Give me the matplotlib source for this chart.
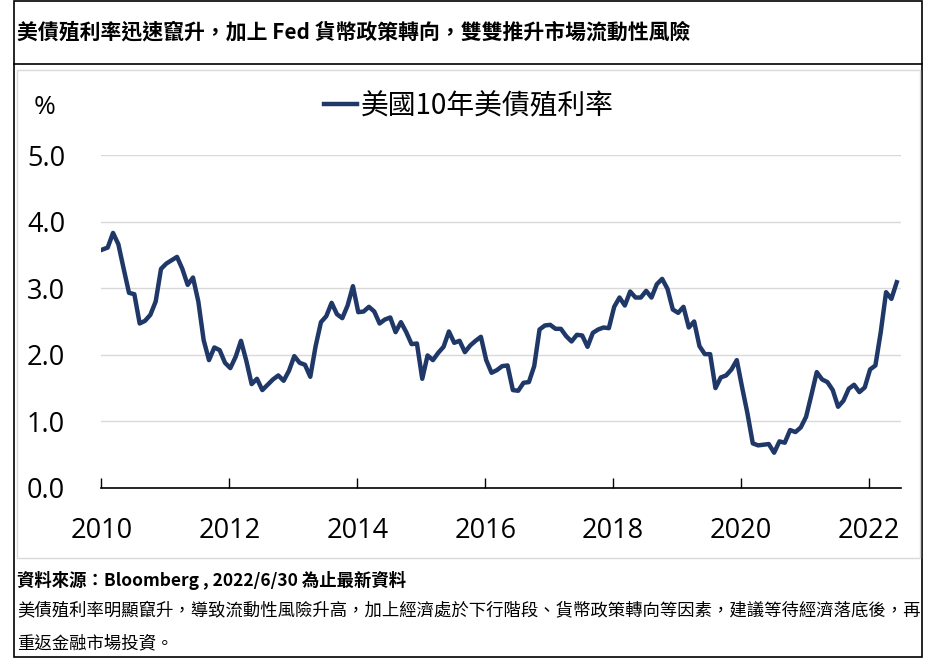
import numpy as np
import matplotlib
matplotlib.use("Agg")
import matplotlib.pyplot as plt
from matplotlib.patches import Rectangle
from matplotlib.lines import Line2D

plt.rcParams['font.family'] = ['Noto Sans CJK TC', 'DejaVu Sans']

# Monthly US 10Y treasury yield (%), Jan 2010 - Jun 2022
y2010 = [3.58, 3.61, 3.83, 3.66, 3.29, 2.93, 2.91, 2.47, 2.51, 2.60, 2.80, 3.29]
y2011 = [3.37, 3.42, 3.47, 3.29, 3.05, 3.16, 2.80, 2.22, 1.92, 2.11, 2.07, 1.88]
y2012 = [1.80, 1.97, 2.21, 1.91, 1.56, 1.64, 1.47, 1.55, 1.63, 1.69, 1.61, 1.76]
y2013 = [1.98, 1.88, 1.85, 1.67, 2.13, 2.49, 2.58, 2.78, 2.61, 2.55, 2.74, 3.03]
y2014 = [2.64, 2.65, 2.72, 2.65, 2.47, 2.53, 2.56, 2.34, 2.49, 2.34, 2.16, 2.17]
y2015 = [1.64, 1.99, 1.92, 2.03, 2.12, 2.35, 2.18, 2.21, 2.04, 2.14, 2.21, 2.27]
y2016 = [1.92, 1.73, 1.77, 1.83, 1.84, 1.47, 1.46, 1.58, 1.59, 1.83, 2.38, 2.44]
y2017 = [2.45, 2.39, 2.39, 2.28, 2.20, 2.30, 2.29, 2.12, 2.33, 2.38, 2.41, 2.40]
y2018 = [2.72, 2.86, 2.74, 2.95, 2.86, 2.86, 2.96, 2.86, 3.06, 3.14, 2.99, 2.68]
y2019 = [2.63, 2.72, 2.41, 2.50, 2.13, 2.01, 2.01, 1.50, 1.66, 1.69, 1.78, 1.92]
y2020 = [1.51, 1.12, 0.67, 0.64, 0.65, 0.66, 0.53, 0.70, 0.68, 0.87, 0.84, 0.91]
y2021 = [1.07, 1.40, 1.74, 1.63, 1.59, 1.47, 1.22, 1.31, 1.49, 1.55, 1.44, 1.51]
y2022 = [1.78, 1.84, 2.34, 2.94, 2.84, 3.09]

yields = (y2010 + y2011 + y2012 + y2013 + y2014 + y2015 + y2016
          + y2017 + y2018 + y2019 + y2020 + y2021 + y2022)
year_labels = ['2010', '2012', '2014', '2016', '2018', '2020', '2022']
y_ticks = [0.0, 1.0, 2.0, 3.0, 4.0, 5.0]

title = '美債殖利率迅速竄升，加上 Fed 貨幣政策轉向，雙雙推升市場流動性風險'
series_name = '美國10年美債殖利率'
source = '資料來源：Bloomberg , 2022/6/30 為止最新資料'
note1 = '美債殖利率明顯竄升，導致流動性風險升高，加上經濟處於下行階段、貨幣政策轉向等因素，建議等待經濟落底後，再'
note2 = '重返金融市場投資。'

W, H = 937, 667
LINE_COLOR = '#1f3868'
NUM_FONT = ['Open Sans', 'DejaVu Sans']


def fx(px):
    return px / W


def fy(py):
    return 1 - py / H


fig = plt.figure(figsize=(W / 100, H / 100), dpi=100)

# frames
fig.patches.append(Rectangle((fx(14), fy(657)), fx(922) - fx(14), fy(1) - fy(657),
                             transform=fig.transFigure, fill=False,
                             edgecolor='black', linewidth=1.2))
fig.lines.append(Line2D([fx(14), fx(922)], [fy(64), fy(64)],
                        transform=fig.transFigure, color='black', linewidth=1.2))
fig.patches.append(Rectangle((fx(17), fy(558)), fx(920) - fx(17), fy(70) - fy(558),
                             transform=fig.transFigure, fill=False,
                             edgecolor='#d9d9d9', linewidth=1.0))

fig.text(fx(17), fy(32), title, fontsize=15, fontweight='bold', va='center', ha='left')

# chart
ax = fig.add_axes([fx(101.3), fy(488), fx(901) - fx(101.3), fy(155) - fy(488)])
months = np.arange(len(yields))
ax.plot(2010 + (months + 0.2) / 12, yields, color=LINE_COLOR, linewidth=3.2,
        solid_joinstyle='round', label=series_name)

ax.set_xlim(2010, 2022.5)
ax.set_ylim(0, 5)
ax.set_xticks([int(y) for y in year_labels])
ax.set_xticklabels(year_labels, family=NUM_FONT)
ax.set_yticks(y_ticks)
ax.set_yticklabels([f'{v:.1f}' for v in y_ticks], family=NUM_FONT)
ax.tick_params(axis='x', direction='in', length=7, width=1, pad=21, labelsize=19.5)
ax.tick_params(axis='y', length=0, pad=26, labelsize=19.5)
ax.grid(axis='y', color='#d9d9d9', linewidth=1)
ax.set_axisbelow(True)
for side in ['top', 'right', 'left']:
    ax.spines[side].set_visible(False)
ax.spines['bottom'].set_linewidth(1.2)
ax.spines['bottom'].set_zorder(5)

fig.text(fx(45), fy(108), '%', fontsize=19, ha='center', va='center', family=NUM_FONT)

fig.legend(loc='center', bbox_to_anchor=(fx(469), fy(106)), frameon=False,
           fontsize=20, handlelength=1.2, handletextpad=0.15)

# footer
fig.text(fx(17), fy(580), source, fontsize=12.5, fontweight='bold', va='center', ha='left')
fig.text(fx(17), fy(611), note1, fontsize=12.5, va='center', ha='left')
fig.text(fx(17), fy(643), note2, fontsize=12.5, va='center', ha='left')

fig.savefig('out.png', dpi=100)
